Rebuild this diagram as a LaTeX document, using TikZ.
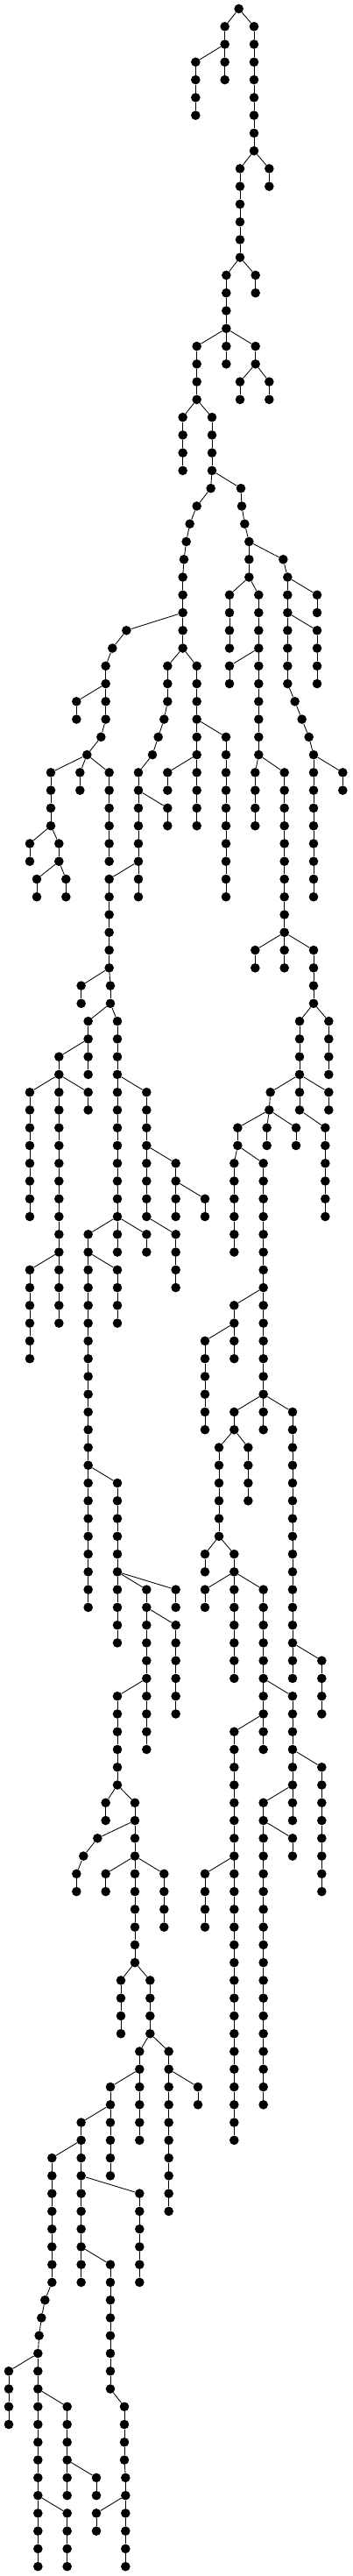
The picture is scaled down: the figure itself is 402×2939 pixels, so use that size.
\documentclass[tikz,border=0pt]{standalone}
\begin{document}
\begin{tikzpicture}[x=1pt,y=1pt,
  dot/.style={circle,fill=black,inner sep=0pt,minimum size=10.6pt},
  edge/.style={line width=0.85pt,black}]
\useasboundingbox (0,0) rectangle (402,-2939);
\node[dot] (n0-818) at (818/3,-10) {};
\foreach \x/\ra/\rb/\pr/\px in {
770/1/2/0/818, 870/1/8/0/818,
670/3/6/2/770, 770/3/4/2/770,
822/9/14/8/870, 922/9/10/8/870,
775/15/18/14/822, 875/15/16/14/822,
674/19/22/18/775, 775/19/20/18/775, 875/19/20/18/775,
822/21/22/20/875, 922/21/22/20/875,
626/23/26/22/674, 726/23/26/22/674,
722/27/27/26/726, 825/27/27/26/726,
674/28/28/27/722, 828/28/28/27/825,
650/29/29/28/674, 838/29/29/28/828,
638/30/30/29/650, 853/30/32/29/838,
630/31/31/30/638, 970/31/31/30/853,
626/32/36/31/630, 985/32/38/31/970,
786/33/36/32/853, 886/33/42/32/853, 1086/33/34/32/985,
433/35/35/34/626, 1086/35/38/34/985,
385/36/36/35/433,
362/37/40/36/385, 574/37/39/36/626, 674/37/46/36/626, 786/37/38/36/886,
262/39/40/38/362, 1010/39/39/38/985,
562/40/40/39/574, 1034/40/40/39/1010,
346/41/41/40/362, 542/41/41/40/562, 774/41/50/40/674, 1058/41/41/40/1034,
298/42/42/41/346, 522/42/42/41/542, 1074/42/50/41/1058,
174/43/46/42/298, 274/43/44/42/298, 374/43/48/42/298, 474/43/50/42/522,
574/43/44/42/674, 874/43/46/42/886, 974/43/54/42/886, 1174/43/44/42/1074,
574/45/46/44/474,
102/47/48/46/174, 202/47/48/46/174,
126/49/50/48/202, 226/49/50/48/202, 374/49/54/48/474,
874/53/54/52/974, 1074/53/56/52/974,
278/55/56/54/374, 378/55/56/54/374,
302/57/60/56/378, 402/57/70/56/378, 1026/57/62/56/1074, 1126/57/60/56/1074,
202/59/74/58/302,
102/61/68/60/202, 302/61/62/60/202, 502/61/68/60/402, 926/61/61/60/1026, 1126/61/62/60/1026,
922/62/62/61/926,
814/63/64/62/922, 914/63/64/62/922, 1014/63/64/62/922, 1114/63/68/62/1026,
602/65/68/64/502, 802/65/70/64/814, 902/65/80/64/814,
702/67/68/66/602,
302/69/90/68/402, 502/69/70/68/402, 602/69/72/68/502,
102/71/76/70/202, 402/71/74/70/302,
802/73/76/72/902,
702/75/80/74/802,
802/79/80/78/902, 1002/79/94/78/902,
750/81/86/80/802, 850/81/84/80/802,
402/83/92/82/302,
702/87/88/86/750, 802/87/94/86/750,
502/89/98/88/402, 602/89/90/88/402, 702/89/90/88/802, 902/89/98/88/802,
602/91/96/90/502,
1102/93/96/92/1002,
402/95/100/94/502, 1002/95/102/94/902,
802/97/120/96/902,
1102/99/106/98/1002,
362/101/102/100/402, 462/101/110/100/402, 902/101/118/100/1002,
334/103/103/102/462, 1002/103/104/102/902,
286/104/104/103/334,
262/105/106/104/286, 362/105/106/104/462, 562/105/108/104/462, 702/105/108/104/802,
414/111/114/110/462, 514/111/114/110/462,
478/115/120/114/514, 578/115/124/114/514,
378/117/122/116/478, 678/117/118/116/578,
278/119/128/118/378,
178/121/128/120/278,
478/123/128/122/278,
378/127/134/126/278,
154/129/129/128/178,
142/130/130/129/154,
134/131/131/130/142,
130/132/144/131/134,
30/133/136/132/130,
230/135/140/134/130, 426/135/138/134/378,
330/139/140/138/230, 430/139/144/138/426,
230/141/144/140/130, 330/141/142/140/430}{
  \foreach \r in {\ra,...,\rb}{
    \pgfmathsetmacro\yy{-(10+20.265*\r)}
    \node[dot] (n\r-\x) at (\x/3,\yy) {};
    \ifnum\r=\ra\relax
      \draw[edge] (n\pr-\px) -- (n\r-\x);
    \else
      \pgfmathtruncatemacro\rp{\r-1}
      \draw[edge] (n\rp-\x) -- (n\r-\x);
    \fi
  }
}
\end{tikzpicture}
\end{document}
